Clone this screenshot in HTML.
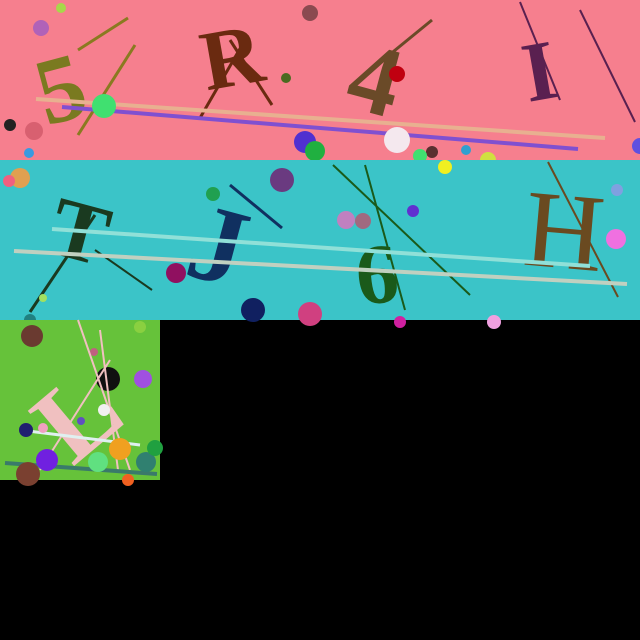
<!DOCTYPE html>
<html><head><meta charset="utf-8"><style>
html,body{margin:0;padding:0;background:#000;width:640px;height:640px;overflow:hidden}
svg{display:block}
text{font-family:"Liberation Serif",serif}
</style></head><body>
<svg width="640" height="640" viewBox="0 0 640 640" xmlns="http://www.w3.org/2000/svg">
<rect width="640" height="640" fill="#000"/>
<g>
<rect x="0" y="0" width="640" height="160" fill="#f67f8e"/>
<circle cx="41" cy="28" r="8" fill="#b062b8"/><circle cx="61" cy="8" r="5" fill="#a8d84a"/>
<circle cx="310" cy="13" r="8" fill="#8a4a50"/><circle cx="286" cy="78" r="5" fill="#4a6a20"/>
<circle cx="10" cy="125" r="6" fill="#222"/><circle cx="34" cy="131" r="9" fill="#d86070"/>
<circle cx="29" cy="153" r="5" fill="#3a9ae0"/>
<text x="35" y="118" font-size="95" font-weight="bold" fill="#7a7a20" font-family="Liberation Sans" transform="rotate(-15 70 80)">5</text>
<text x="200" y="85" font-size="85" fill="#6a2a10" font-weight="bold" transform="rotate(-10 235 50)">R</text>
<text x="352" y="118" font-size="100" fill="#6a4a28" font-weight="bold" font-family="Liberation Sans" transform="rotate(15 395 75)">4</text>
<text x="522" y="98" font-size="85" fill="#5a2050" font-family="Liberation Serif" font-weight="bold" transform="rotate(-10 548 65)">I</text>
<line x1="78" y1="50" x2="128" y2="18" stroke="#8a7a20" stroke-width="3"/>
<line x1="78" y1="135" x2="135" y2="45" stroke="#8a7a20" stroke-width="3"/>
<line x1="200" y1="118" x2="245" y2="40" stroke="#6a2a10" stroke-width="3"/>
<line x1="230" y1="40" x2="272" y2="105" stroke="#6a2a10" stroke-width="3"/>
<line x1="355" y1="83" x2="432" y2="20" stroke="#6a4a28" stroke-width="3"/>
<line x1="520" y1="2" x2="560" y2="100" stroke="#5a2050" stroke-width="2"/>
<line x1="580" y1="10" x2="635" y2="122" stroke="#5a2050" stroke-width="2"/>
<line x1="36" y1="99" x2="605" y2="138" stroke="#e8b090" stroke-width="4"/>
<line x1="62" y1="107" x2="578" y2="149" stroke="#8050d0" stroke-width="4"/>
<circle cx="104" cy="106" r="12" fill="#40e070"/><circle cx="397" cy="74" r="8" fill="#c00010"/>
<circle cx="305" cy="142" r="11" fill="#5030d0"/><circle cx="315" cy="151" r="10" fill="#20b040"/>
<circle cx="397" cy="140" r="13" fill="#f4e8ee"/><circle cx="432" cy="152" r="6" fill="#5a3030"/>
<circle cx="466" cy="150" r="5" fill="#30a0d0"/><circle cx="420" cy="156" r="7" fill="#40e070"/>
<circle cx="488" cy="160" r="8" fill="#d0e040"/><circle cx="640" cy="146" r="8" fill="#6050e0"/>
</g>
<g>
<rect x="0" y="160" width="640" height="160" fill="#3bc4c8"/>
<circle cx="20" cy="178" r="10" fill="#e0a050"/><circle cx="9" cy="181" r="6" fill="#f06080"/>
<circle cx="213" cy="194" r="7" fill="#20a050"/><circle cx="282" cy="180" r="12" fill="#6a3a80"/>
<circle cx="346" cy="220" r="9" fill="#c080c0"/><circle cx="363" cy="221" r="8" fill="#a06a80"/>
<circle cx="413" cy="211" r="6" fill="#6030d0"/><circle cx="445" cy="167" r="7" fill="#f0f020"/>
<circle cx="617" cy="190" r="6" fill="#80a0e0"/><circle cx="616" cy="239" r="10" fill="#f070e0"/>
<text x="55" y="262" font-size="85" fill="#1a3a20" font-family="Liberation Sans" font-weight="bold" transform="rotate(15 90 220)">T</text>
<text x="190" y="285" font-size="110" fill="#103060" font-family="Liberation Sans" font-weight="bold" transform="rotate(15 230 250)">J</text>
<text x="355" y="302" font-size="85" fill="#1a5a1a" font-family="Liberation Sans" font-weight="bold" transform="rotate(-5 385 265)">6</text>
<text x="525" y="268" font-size="110" fill="#6a4a20" font-family="Liberation Serif" transform="rotate(5 565 225)">H</text>
<line x1="30" y1="312" x2="95" y2="215" stroke="#1a3a20" stroke-width="3"/>
<line x1="95" y1="250" x2="152" y2="290" stroke="#1a3a20" stroke-width="2"/>
<line x1="230" y1="185" x2="282" y2="228" stroke="#103060" stroke-width="3"/>
<line x1="333" y1="165" x2="470" y2="295" stroke="#1a5a1a" stroke-width="2"/>
<line x1="365" y1="165" x2="405" y2="310" stroke="#1a5a1a" stroke-width="2"/>
<line x1="548" y1="162" x2="618" y2="297" stroke="#6a4a20" stroke-width="2"/>
<line x1="52" y1="229" x2="590" y2="266" stroke="#90e0d8" stroke-width="4"/>
<line x1="14" y1="251" x2="627" y2="284" stroke="#c0d0c0" stroke-width="4"/>
<circle cx="176" cy="273" r="10" fill="#901060"/><circle cx="253" cy="310" r="12" fill="#102060"/>
<circle cx="310" cy="314" r="12" fill="#d04080"/><circle cx="43" cy="298" r="4" fill="#a0e060"/>
<circle cx="30" cy="320" r="6" fill="#208080"/><circle cx="400" cy="322" r="6" fill="#d020a0"/>
<circle cx="494" cy="322" r="7" fill="#f0a0e0"/>
</g>
<g>
<rect x="0" y="320" width="160" height="160" fill="#66c23a"/>
<circle cx="32" cy="336" r="11" fill="#6a3a30"/><circle cx="140" cy="327" r="6" fill="#8ad040"/>
<circle cx="108" cy="379" r="12" fill="#101010"/><circle cx="143" cy="379" r="9" fill="#a050e0"/>
<circle cx="94" cy="352" r="4" fill="#c06080"/>
<text x="30" y="450" font-size="110" fill="#f0c0c0" font-family="Liberation Sans" font-weight="bold" transform="rotate(-40 75 400)">L</text>
<line x1="78" y1="320" x2="130" y2="470" stroke="#f0c0c0" stroke-width="2"/>
<line x1="100" y1="330" x2="118" y2="470" stroke="#f0c0c0" stroke-width="2"/>
<line x1="40" y1="470" x2="110" y2="360" stroke="#f0c0c0" stroke-width="2"/>
<line x1="20" y1="430" x2="140" y2="445" stroke="#e0f0f0" stroke-width="3"/>
<line x1="5" y1="463" x2="157" y2="474" stroke="#3a7a6a" stroke-width="4"/>
<circle cx="104" cy="410" r="6" fill="#f0f0f0"/><circle cx="26" cy="430" r="7" fill="#202070"/>
<circle cx="43" cy="428" r="5" fill="#f0a0c0"/><circle cx="81" cy="421" r="4" fill="#6050c0"/>
<circle cx="47" cy="460" r="11" fill="#7020e0"/><circle cx="98" cy="462" r="10" fill="#60e080"/>
<circle cx="120" cy="449" r="11" fill="#f0a020"/><circle cx="146" cy="462" r="10" fill="#308070"/>
<circle cx="155" cy="448" r="8" fill="#20a040"/><circle cx="28" cy="474" r="12" fill="#7a4030"/>
<circle cx="128" cy="480" r="6" fill="#f06020"/>
</g>
</svg>
</body></html>
